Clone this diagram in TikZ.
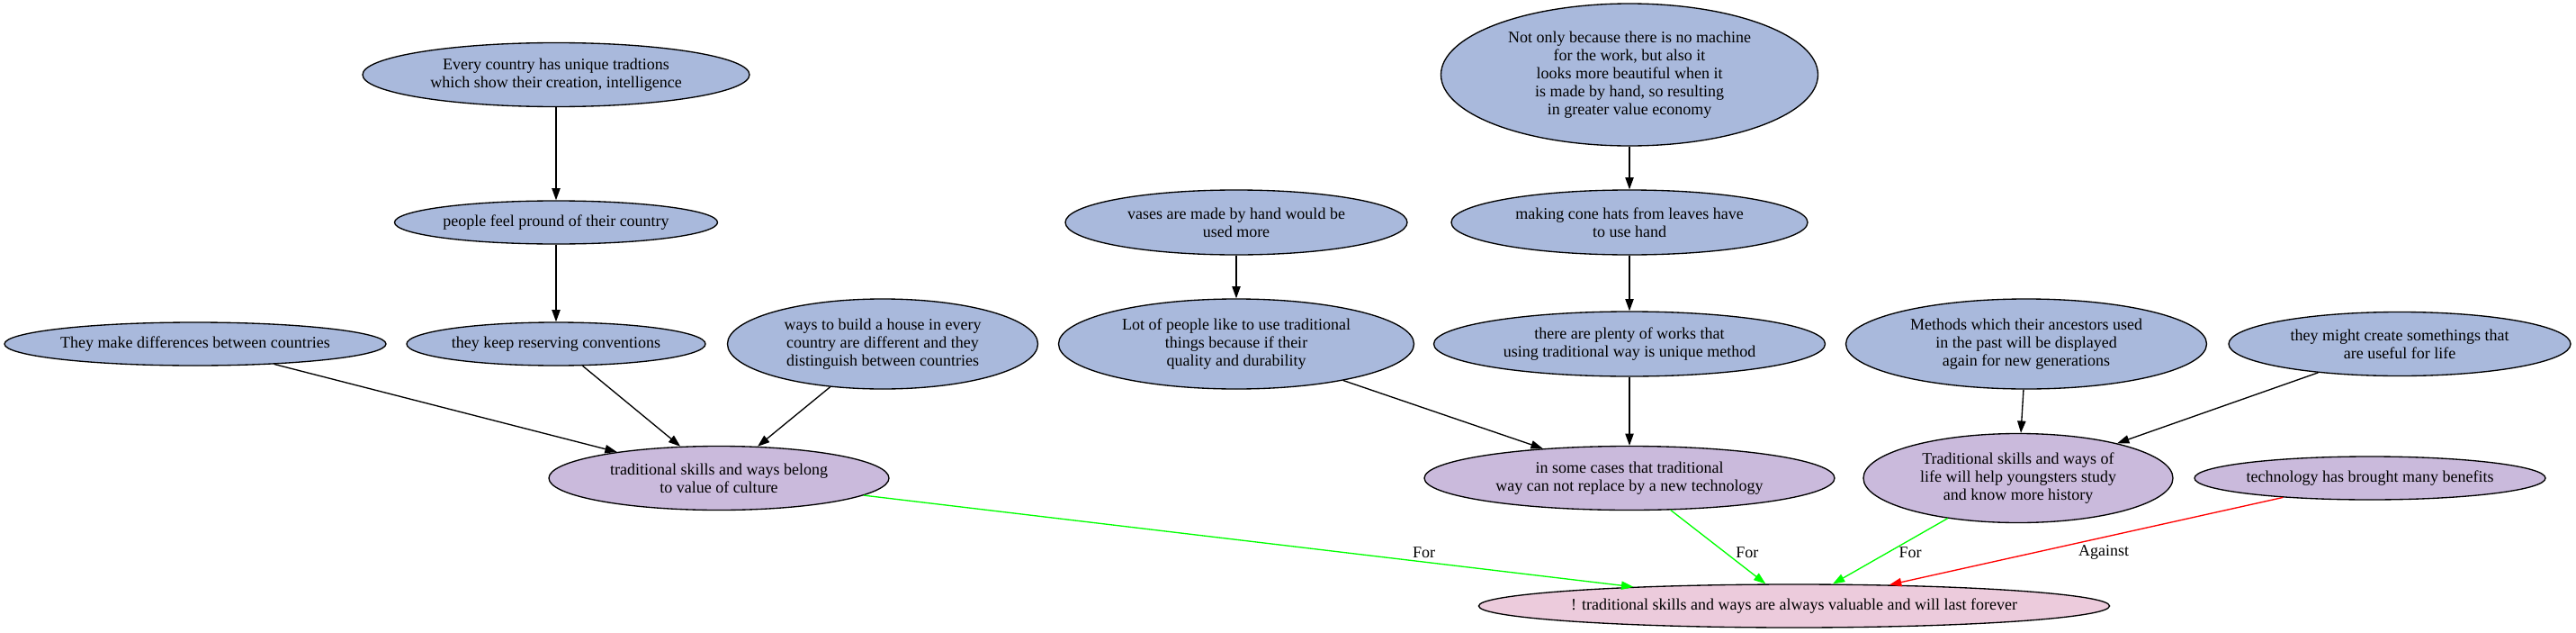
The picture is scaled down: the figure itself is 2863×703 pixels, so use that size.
\documentclass[tikz,border=0pt]{standalone}
\usepackage{fontspec}
\setmainfont{Liberation Serif}
\usetikzlibrary{shapes.geometric,arrows.meta}
\definecolor{cblue}{HTML}{A9B9DC}
\definecolor{clav}{HTML}{CABADC}
\definecolor{cpink}{HTML}{ECCBDC}
\tikzset{
  base/.style={ellipse, draw=black, line width=1pt, inner sep=0pt, align=center,
    font=\fontsize{13.5}{15}\selectfont},
  bluenode/.style={base, fill=cblue},
  lavnode/.style={base, fill=clav},
  pinknode/.style={base, fill=cpink},
  sz/.style 2 args={minimum width=#1*0.75pt, minimum height=#2*0.75pt},
  arr/.style={-{Triangle[length=10pt,width=7pt]}, line width=1pt},
  forarr/.style={arr, draw=green, -{Triangle[length=10pt,width=7pt,fill=green]}},
  agarr/.style={arr, draw=red, -{Triangle[length=10pt,width=7pt,fill=red]}},
  lbl/.style={font=\fontsize{13.5}{15}\selectfont, inner sep=0pt}
}
\begin{document}
\begin{tikzpicture}[x=0.75pt,y=-0.75pt]
\useasboundingbox (0,0) rectangle (2863,703);
% left cluster
\node[bluenode, sz={430}{71}] (A) at (618,83) {Every country has unique tradtions\\which show their creation, intelligence};
\node[bluenode, sz={359}{48}] (B) at (618,247) {people feel pround of their country};
\node[bluenode, sz={424}{48}] (C) at (217,382) {They make differences between countries};
\node[bluenode, sz={332}{48}] (D) at (618,382) {they keep reserving conventions};
\node[bluenode, sz={345}{100}] (E) at (981,382) {ways to build a house in every\\country are different and they\\distinguish between countries};
\node[lavnode, sz={378}{71}] (F) at (799,531) {traditional skills and ways belong\\to value of culture};
% middle cluster
\node[bluenode, sz={419}{158}] (G) at (1811,83) {Not only because there is no machine\\for the work, but also it\\looks more beautiful when it\\is made by hand, so resulting\\in greater value economy};
\node[bluenode, sz={380}{72}] (H) at (1374,247) {vases are made by hand would be\\used more};
\node[bluenode, sz={396}{72}] (I) at (1811,247) {making cone hats from leaves have\\to use hand};
\node[bluenode, sz={395}{100}] (J) at (1374,382) {Lot of people like to use traditional\\things because if their\\quality and durability};
\node[bluenode, sz={435}{72}] (K) at (1811,382) {there are plenty of works that\\using traditional way is unique method};
\node[lavnode, sz={456}{71}] (L) at (1811,531) {in some cases that traditional\\way can not replace by a new technology};
% right cluster
\node[bluenode, sz={401}{100}] (N) at (2252,382) {Methods which their ancestors used\\in the past will be displayed\\again for new generations};
\node[bluenode, sz={380}{71}] (O) at (2667,382) {they might create somethings that\\are useful for life};
\node[lavnode, sz={344}{99}] (P) at (2243,531) {Traditional skills and ways of\\life will help youngsters study\\and know more history};
\node[lavnode, sz={390}{48}] (Q) at (2634,531) {technology has brought many benefits};
% conclusion
\node[pinknode, sz={678}{48}] (M) at (1994,673) {! traditional skills and ways are always valuable and will last forever};
% black edges
\draw[arr] (A) -- (B);
\draw[arr] (B) -- (D);
\draw[arr] (C) -- (F);
\draw[arr] (D) -- (F);
\draw[arr] (E) -- (F);
\draw[arr] (H) -- (J);
\draw[arr] (G) -- (I);
\draw[arr] (I) -- (K);
\draw[arr] (J) -- (L);
\draw[arr] (K) -- (L);
\draw[arr] (N) -- (P);
\draw[arr] (O) -- (P);
% for / against edges
\draw[forarr] (F) -- node[lbl, pos=0.728, yshift=7.9pt] (lf1) {For} (M);
\draw[forarr] (L) -- node[lbl, pos=0.579, xshift=18pt] (lf2) {For} (M);
\draw[forarr] (P) -- node[lbl, pos=0.524, xshift=19pt] (lf3) {For} (M);
\draw[agarr] (Q) -- node[lbl, pos=0.632, xshift=57.8pt] (la1) {Against} (M);
\end{tikzpicture}
\end{document}
